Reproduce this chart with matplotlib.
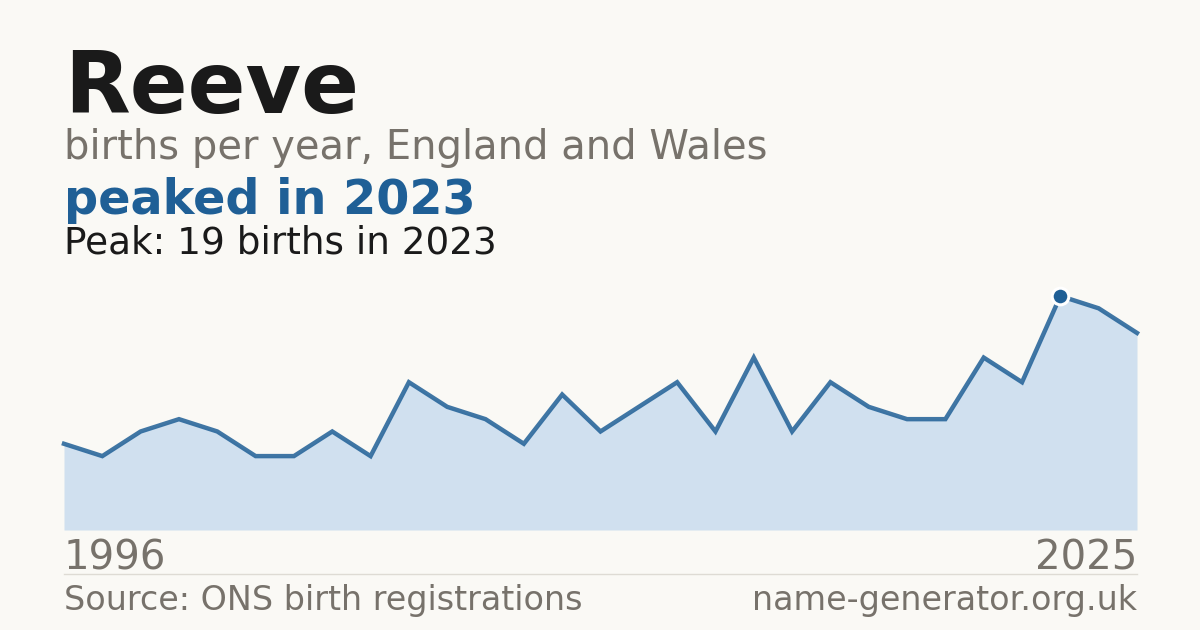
import numpy as np
import matplotlib.pyplot as plt

# births per year for "Reeve" (29 recorded years, 1996-2025, one year missing)
years = [1996, 1997, 1998, 1999, 2000, 2002, 2003, 2004, 2005, 2006,
         2007, 2008, 2009, 2010, 2011, 2012, 2013, 2014, 2015, 2016,
         2017, 2018, 2019, 2020, 2021, 2022, 2023, 2024, 2025]
births = [7, 6, 8, 9, 8, 6, 6, 8, 6, 12,
          10, 9, 7, 11, 8, 10, 12, 8, 14, 8,
          12, 10, 9, 9, 14, 12, 19, 18, 16]

name = "Reeve"
subtitle = "births per year, England and Wales"
source = "Source: ONS birth registrations"
site = "name-generator.org.uk"

bg = '#faf9f5'
blue = '#1f5f96'
grey = '#77726b'
ink = '#1a1a1a'

W, H = 1200, 630
fig = plt.figure(figsize=(12, 6.3), dpi=100, facecolor=bg)

def fy(px):
    # pixel from top -> figure fraction
    return 1 - px / H

left, right = 64, 1137
ax = fig.add_axes([left / W, fy(530), (right - left) / W, (530 - 296) / H])
ax.set_facecolor(bg)
x = np.arange(len(births))
peak_i = int(np.argmax(births))

ax.fill_between(x, births, 0, color='#d0e0ef', lw=0)
ax.plot(x, births, color=blue, lw=3.2, alpha=0.85, clip_on=False,
        solid_joinstyle='miter')
ax.plot(x[peak_i], births[peak_i], 'o', color=blue, ms=12, mec='white',
        mew=2.2, clip_on=False, zorder=5)
ax.set_xlim(0, len(births) - 1)
ax.set_ylim(0, max(births))
ax.axis('off')

# header text
fig.text(left / W, fy(113), name, fontsize=61.5, fontweight='bold', color=ink,
         va='baseline')
fig.text(left / W, fy(159), subtitle, fontsize=28.8, color=grey, va='baseline')
fig.text(left / W, fy(214), f"peaked in {years[peak_i]}", fontsize=34.4,
         fontweight='bold', color=blue, va='baseline')
fig.text(left / W, fy(253), f"Peak: {births[peak_i]} births in {years[peak_i]}",
         fontsize=26.9, color=ink, va='baseline')

# x range labels
fig.text(left / W, fy(570), str(years[0]), fontsize=29, color=grey, va='baseline')
fig.text(right / W, fy(570), str(years[-1]), fontsize=29, color=grey,
         va='baseline', ha='right')

# separator
fig.add_artist(plt.Line2D([left / W, right / W], [fy(574), fy(574)],
                          color='#dedbd4', lw=1))

# footer
fig.text(left / W, fy(610), source, fontsize=24, color=grey, va='baseline')
fig.text(right / W, fy(610), site, fontsize=24, color=grey, va='baseline',
         ha='right')

fig.savefig('out.png', dpi=100, facecolor=bg)
